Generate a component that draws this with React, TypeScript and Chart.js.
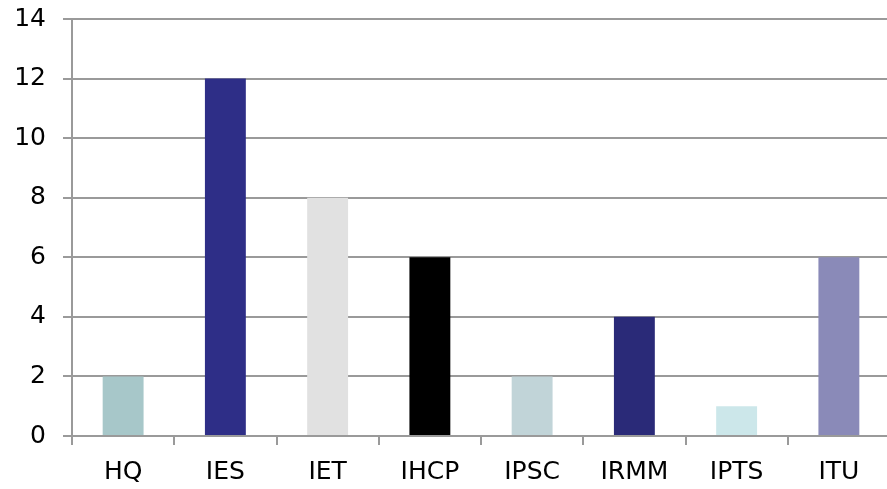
import React, { useEffect, useRef } from "react";
import { Chart, registerables } from "chart.js";

Chart.register(...registerables);

const categories = ["HQ", "IES", "IET", "IHCP", "IPSC", "IRMM", "IPTS", "ITU"];
const values = [2, 12, 8, 6, 2, 4, 1, 6];
const barColors = ["#a7c7c9", "#2e2e87", "#e1e1e1", "#000000", "#c1d4d8", "#2a2a78", "#cce7ea", "#8a8ab8"];
const yMin = 0;
const yMax = 14;
const yStep = 2;

export default function App() {
  const ref = useRef<HTMLCanvasElement | null>(null);
  useEffect(() => {
    if (!ref.current) return;
    const chart = new Chart(ref.current, {
      type: "bar",
      data: {
        labels: categories,
        datasets: [
          {
            data: values,
            backgroundColor: barColors,
            borderWidth: 0,
            barPercentage: 0.4,
            categoryPercentage: 1,
          },
        ],
      },
      options: {
        animation: false,
        responsive: false,
        maintainAspectRatio: false,
        layout: { padding: { left: 0, top: 19, right: 10, bottom: 0 } },
        plugins: { legend: { display: false }, tooltip: { enabled: false } },
        scales: {
          x: {
            afterFit: (s: any) => {
              s.height = 53;
              s.paddingLeft = 0;
              s.paddingRight = 0;
              s.paddingTop = 0;
              s.paddingBottom = 0;
            },
            grid: {
              display: true,
              drawOnChartArea: false,
              drawTicks: true,
              tickLength: 9,
              color: "#9a9a9a",
              lineWidth: 2,
              offset: true,
            },
            border: { display: true, color: "#9a9a9a", width: 2 },
            ticks: {
              color: "#000000",
              font: { family: "DejaVu Sans", size: 25 },
              padding: 12,
              maxRotation: 0,
              autoSkip: false,
            },
          },
          y: {
            min: yMin,
            max: yMax,
            afterFit: (s: any) => {
              s.width = 72;
              s.paddingLeft = 0;
              s.paddingRight = 0;
              s.paddingTop = 0;
              s.paddingBottom = 0;
            },
            grid: { color: "#9a9a9a", lineWidth: 2, tickLength: 9 },
            border: { display: true, color: "#9a9a9a", width: 2 },
            ticks: {
              stepSize: yStep,
              color: "#000000",
              font: { family: "DejaVu Sans", size: 25 },
              padding: 17,
            },
          },
        },
      },
    });
    return () => chart.destroy();
  }, []);
  return (
    <div style={{ position: "fixed", left: 0, top: 0, width: 887, height: 489, overflow: "hidden", background: "#fff" }}>
      <canvas ref={ref} width={900} height={489} style={{ display: "block" }} />
    </div>
  );
}
